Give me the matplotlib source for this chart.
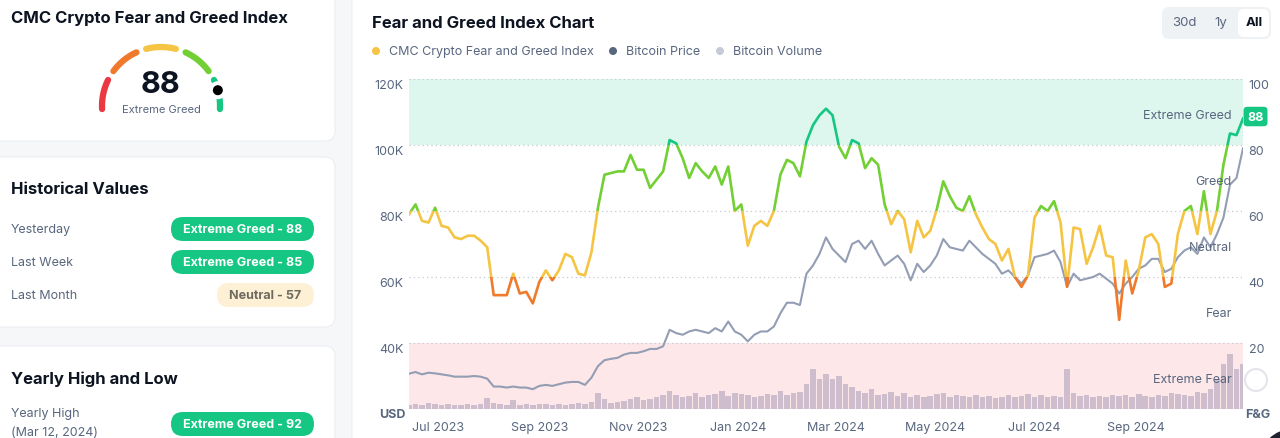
"""CMC crypto fear and greed dashboard, redrawn with matplotlib."""

import matplotlib

matplotlib.use("Agg")
import numpy as np  # noqa: E402
import pandas as pd  # noqa: E402
from matplotlib import pyplot as plt  # noqa: E402
from matplotlib.patches import Circle, FancyBboxPatch, Rectangle  # noqa: E402

plt.rcParams["font.family"] = ["Inter", "DejaVu Sans"]

# ---- data (one sample every 4 days) ----
START = "2023-06-13"
STEP = "4D"

fear_greed = [
    59, 62, 57, 56.5, 61, 55.5, 55, 52, 51.5, 52.5, 52.5, 51, 49, 34.5, 34.5, 34.5,
    41, 35, 35.5, 32, 38.5, 42, 39, 42, 47, 46, 41, 40.5, 47.5, 61, 71, 71.5, 72,
    72, 77, 72.5, 72.5, 67, 69.5, 72, 81.5, 80.5, 76, 70, 74.5, 72, 70, 73.5, 68,
    73.5, 60, 62, 49.5, 55.5, 57, 55.5, 60, 71, 75.5, 74.5, 70.5, 81, 86, 89, 91,
    89, 79.5, 76, 81.5, 80.5, 73, 76, 74, 62, 56, 60, 57.5, 47.5, 57, 52, 54,
    60.5, 69, 64.5, 61, 60, 64.5, 59, 55, 51.5, 50, 45, 48.5, 40, 37, 40.5, 58,
    61.5, 60, 63, 56.5, 37, 55, 54.5, 44, 49, 55.5, 46.5, 46, 27, 45, 35, 42,
    52, 53, 50, 37, 38, 53, 60, 61.5, 53, 66, 53, 60, 74, 83.5, 83, 88,
]

btc_price_k = [
    30.7, 31.2, 30.5, 31.0, 30.8, 30.5, 30.2, 29.8, 29.8, 29.8, 30.0, 29.8, 29.2,
    26.8, 26.8, 26.5, 26.8, 26.5, 26.5, 26.0, 27.0, 27.3, 27.0, 27.5, 28.0, 28.2,
    28.2, 27.3, 29.5, 33.0, 34.8, 35.2, 35.5,
    36.5, 37.0, 37.0, 37.5, 38.2, 38.2, 39.0, 44.0, 43.0, 42.5, 43.5, 44.0, 43.5,
    43.0, 44.5, 43.5, 46.5, 43.5, 42.5, 40.5, 42.5, 43.5, 43.5, 45.0, 49.0, 52.2,
    52.2, 51.5, 61.0, 63.5, 67.0, 72.0,
    68.5, 66.5, 64.5, 70.0, 71.0, 68.5, 71.0, 67.0, 63.5, 65.0, 66.5, 64.0, 59.0,
    64.0, 61.5, 63.5, 66.5, 71.5, 69.0, 68.5, 68.0, 71.0, 69.0, 67.0, 65.5, 64.0,
    61.0, 62.0, 60.0, 58.0, 60.5, 66.0,
    66.5, 67.0, 68.0, 64.5, 57.0, 61.0, 59.0, 59.5, 60.0, 61.0, 59.5, 58.0, 55.0,
    58.0, 60.0, 62.5, 63.5, 65.5, 65.5, 61.5, 62.5, 66.0, 68.0, 69.0, 67.0, 72.0,
    69.0, 73.0, 78.0, 88.0, 90.0, 99.0,
]

btc_volume_b = [
    4, 5, 4, 6, 5, 4, 5, 4, 4, 5, 4, 5, 11, 6, 5, 4, 9, 4, 5, 4, 5, 5,
    4, 5, 4, 5, 6, 5, 7, 16, 10, 6, 7,
    8, 10, 12, 9, 10, 12, 14, 18, 14, 12, 13, 16, 12, 14, 15, 18, 13, 16,
    15, 14, 12, 13, 15, 14, 18, 14, 16, 17, 25, 40, 30, 35,
    30, 33, 25, 22, 18, 16, 20, 14, 15, 17, 13, 16, 12, 14, 12, 13, 15, 16,
    12, 14, 13, 12, 14, 12, 13, 11, 12, 14, 12, 13, 15, 12,
    14, 12, 13, 12, 40, 16, 13, 14, 12, 13, 12, 14, 13, 14, 12, 15, 13, 12,
    14, 13, 16, 15, 14, 13, 17, 16, 20, 30, 45, 55, 40, 45,
]

usd_ticks = [40, 60, 80, 100, 120]
usd_labels = ["40K", "60K", "80K", "100K", "120K"]
fg_ticks = [20, 40, 60, 80, 100]
month_ticks = ["2023-07-01", "2023-09-01", "2023-11-01", "2024-01-01",
               "2024-03-01", "2024-05-01", "2024-07-01", "2024-09-01"]
month_labels = ["Jul 2023", "Sep 2023", "Nov 2023", "Jan 2024",
                "Mar 2024", "May 2024", "Jul 2024", "Sep 2024"]

zone_names = ["Extreme Fear", "Fear", "Neutral", "Greed", "Extreme Greed"]
zone_bounds = [0, 20, 40, 60, 80, 100]
zone_colors = ["#ea3943", "#f07a2b", "#f6c443", "#72cf34", "#16c784"]

history_rows = ["Yesterday", "Last Week", "Last Month"]
history_vals = ["Extreme Greed - 88", "Extreme Greed - 85", "Neutral - 57"]
current_value = 88

GREY = "#58667e"
DARK = "#0d1421"
GREEN = "#16c784"

fig = plt.figure(figsize=(12.8, 4.39), dpi=100)
fig.patch.set_facecolor("#f6f7f9")

# overlay in pixel coordinates for the page furniture
bg = fig.add_axes([0, 0, 1, 1], zorder=0)
bg.set_xlim(0, 1280)
bg.set_ylim(439, 0)
bg.axis("off")


def card(x0, y0, x1, y1):
    bg.add_patch(FancyBboxPatch((x0, y0), x1 - x0, y1 - y0,
                                boxstyle="round,pad=0,rounding_size=10",
                                fc="white", ec="#eceef2", lw=0.8))


def pill(x0, x1, yc, text, fc, tc):
    bg.add_patch(FancyBboxPatch((x0, yc - 12), x1 - x0, 24,
                                boxstyle="round,pad=0,rounding_size=12",
                                fc=fc, ec="none"))
    bg.text((x0 + x1) / 2, yc, text, ha="center", va="center",
            fontsize=9, fontweight="bold", color=tc)


card(-12, -12, 335, 142)
card(-12, 158, 335, 328)
card(-12, 347, 335, 460)
card(352, -12, 1300, 460)

# gauge card
bg.text(11, 18, "CMC Crypto Fear and Greed Index", fontsize=12,
        fontweight="bold", color=DARK, va="center")
cx, cy, r = 161, 107, 59
for k, col in enumerate(zone_colors):
    a0 = np.radians(188 - 1.96 * zone_bounds[k] - 5)
    a1 = np.radians(188 - 1.96 * zone_bounds[k + 1] + 5)
    t = np.linspace(a0, a1, 40)
    bg.plot(cx + r * np.cos(t), cy - r * np.sin(t), color=col, lw=4.5,
            solid_capstyle="round")
ang = np.radians(188 - 1.96 * current_value)
dx, dy = cx + r * np.cos(ang), cy - r * np.sin(ang)
bg.add_patch(Circle((dx, dy), 9, fc="white", ec="none", zorder=5))
bg.add_patch(Circle((dx, dy), 5, fc="black", ec="none", zorder=6))
bg.text(cx, 85, str(current_value), ha="center", va="center", fontsize=22,
        fontweight="bold", color=DARK)
bg.text(cx, 110, "Extreme Greed", ha="center", va="center", fontsize=8, color=GREY)

# historical values card
bg.text(11, 190, "Historical Values", fontsize=12, fontweight="bold",
        color=DARK, va="center")
for k, (row, val) in enumerate(zip(history_rows, history_vals)):
    yc = 230 + 33 * k
    bg.text(11, yc, row, fontsize=9, color=GREY, va="center")
    if val.startswith("Neutral"):
        pill(217, 314, yc, val, "#fdf0d5", "#6f6a60")
    else:
        pill(171, 314, yc, val, GREEN, "white")

# yearly high card
bg.text(11, 379, "Yearly High and Low", fontsize=12, fontweight="bold",
        color=DARK, va="center")
bg.text(11, 414, "Yearly High", fontsize=9, color=GREY, va="center")
bg.text(11, 433, "(Mar 12, 2024)", fontsize=9, color=GREY, va="center")
pill(171, 314, 425, "Extreme Greed - 92", GREEN, "white")

# chart header
bg.text(372, 23, "Fear and Greed Index Chart", fontsize=12, fontweight="bold",
        color=DARK, va="center")
legend = [("CMC Crypto Fear and Greed Index", "#f6c443", 376),
          ("Bitcoin Price", "#58667e", 613),
          ("Bitcoin Volume", "#c6cad6", 720)]
for name, col, x in legend:
    bg.add_patch(Circle((x, 52), 4, fc=col, ec="none"))
    bg.text(x + 13, 52, name, fontsize=9, color=GREY, va="center")

bg.add_patch(FancyBboxPatch((1162, 8), 109, 32, boxstyle="round,pad=0,rounding_size=7",
                            fc="#eff2f5", ec="none"))
bg.add_patch(FancyBboxPatch((1238, 10), 31, 28, boxstyle="round,pad=0,rounding_size=6",
                            fc="white", ec="none"))
bg.text(1184, 23, "30d", fontsize=9.5, color=GREY, ha="center", va="center")
bg.text(1221, 23, "1y", fontsize=9.5, color=GREY, ha="center", va="center")
bg.text(1254, 23, "All", fontsize=9.5, color=DARK, fontweight="bold",
        ha="center", va="center")
bg.text(392, 415, "USD", fontsize=9, fontweight="bold", color=GREY,
        ha="center", va="center")
bg.text(1258, 415, "F&G", fontsize=9, fontweight="bold", color=GREY,
        ha="center", va="center")
bg.add_patch(Circle((1256, 381), 11, fc="none", ec="#e3e5ea", lw=1.5))
bg.add_patch(Circle((1292, 462), 32, fc="#1e2130", ec="none"))

# ---- chart ----
dates = pd.date_range(START, periods=len(fear_greed), freq=STEP)
rect = [409 / 1280, 29 / 439, 834 / 1280, 330 / 439]
ax = fig.add_axes(rect, zorder=1)
ax.patch.set_alpha(0)
ax.set_ylim(0, 100)
ax.set_xlim(dates[0], dates[-1])
ax.axhspan(80, 100, color="#ddf7ee", lw=0)
ax.axhspan(0, 20, color="#fde7e9", lw=0)
for v in [0] + fg_ticks:
    ax.axhline(v, color="#c3c9d3", lw=0.9, ls=(0, (1, 2.5)))
ax.set_yticks([])
ax.set_xticks(pd.to_datetime(month_ticks))
ax.set_xticklabels(month_labels)
ax.tick_params(axis="x", length=0, pad=9, labelsize=9, labelcolor=GREY)
for v in fg_ticks:
    ax.annotate(str(v), xy=(1, v), xycoords=ax.get_yaxis_transform(),
                xytext=(4, -4.5), textcoords="offset points",
                ha="left", va="center", fontsize=9, color=GREY)
for s in ax.spines.values():
    s.set_visible(False)

ax_vol = ax.twinx()
ax_vol.set_ylim(0, 330)
ax_vol.bar(dates, btc_volume_b, width=3.4, color="#cdbdcd", lw=0)
ax_vol.axis("off")

ax_usd = ax.twinx()
ax_usd.set_ylim(20, 120)
ax_usd.plot(dates, btc_price_k, color="#939db3", lw=1.5)
for v, lab in zip(usd_ticks, usd_labels):
    ax_usd.annotate(lab, xy=(0, v), xycoords=ax_usd.get_yaxis_transform(),
                    xytext=(-4, -4.5), textcoords="offset points",
                    ha="right", va="center", fontsize=9, color=GREY)
ax_usd.axis("off")

ax_fg = ax.twinx()
ax_fg.set_ylim(0, 100)
for k, col in enumerate(zone_colors):
    lo = -50 if k == 0 else zone_bounds[k]
    hi = 150 if k == len(zone_colors) - 1 else zone_bounds[k + 1]
    (line,) = ax_fg.plot(dates, fear_greed, color=col, lw=1.9,
                         solid_joinstyle="round")
    clip = Rectangle((0, lo), 1, hi - lo, transform=ax_fg.get_yaxis_transform())
    line.set_clip_path(clip)
for k, name in enumerate(zone_names):
    mid = (zone_bounds[k] + zone_bounds[k + 1]) / 2
    ax_fg.annotate(name, xy=(1, mid), xycoords=ax_fg.get_yaxis_transform(),
                   xytext=(-8, -2), textcoords="offset points",
                   ha="right", va="center", fontsize=9, color=GREY)
ax_fg.annotate(str(current_value), xy=(1, fear_greed[-1]),
               xycoords=ax_fg.get_yaxis_transform(), xytext=(9, 1.5),
               textcoords="offset points", ha="center", va="center",
               fontsize=9, fontweight="bold", color="white",
               bbox=dict(boxstyle="round,pad=0.3,rounding_size=0.3", fc=GREEN, ec="none"))
ax_fg.axis("off")

fig.savefig("out.png", dpi=100, facecolor=fig.get_facecolor())
